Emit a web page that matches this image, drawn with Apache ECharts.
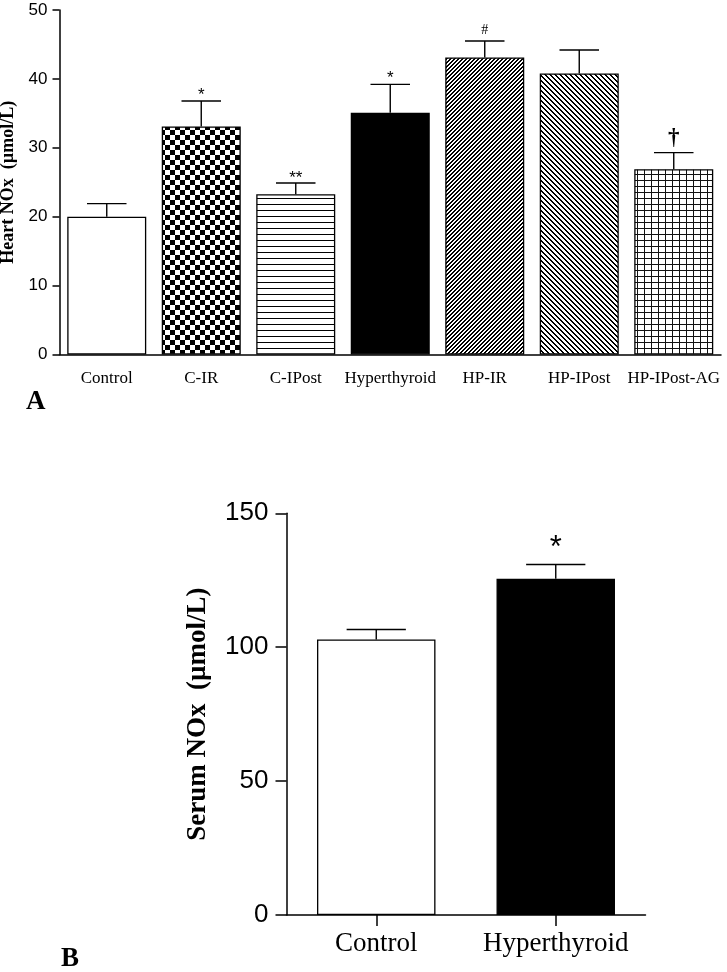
<!DOCTYPE html>
<html>
<head>
<meta charset="utf-8">
<script src="https://cdn.jsdelivr.net/npm/echarts@6/dist/echarts.min.js"></script>
<style>
html,body{margin:0;padding:0;background:#fff;}
#chart{width:727px;height:972px;}
</style>
</head>
<body>
<div id="chart"></div>
<script>
// ---- Data (panel A: heart NOx) ----
const topCategories = ['Control', 'C-IR', 'C-IPost', 'Hyperthyroid', 'HP-IR', 'HP-IPost', 'HP-IPost-AG'];
const topMeans = [20.0, 33.1, 23.25, 35.1, 43.1, 40.8, 26.9];
const topSEM = [1.9, 3.7, 1.65, 4.1, 2.4, 3.4, 2.4];
const topMarks = ['', '*', '**', '*', '#', '', '\u2020'];
const topYTicks = [0, 10, 20, 30, 40, 50];

// ---- Data (panel B: serum NOx) ----
const bottomCategories = ['Control', 'Hyperthyroid'];
const bottomMeans = [102.9, 125.6];
const bottomSEM = [3.7, 5.3];
const bottomMarks = ['', '*'];
const bottomYTicks = [0, 50, 100, 150];

// ---- Styles ----
const topFills = ['white', 'checker', 'hlines', 'black', 'diagUp', 'diagDown', 'grid'];
const bottomFills = ['white', 'black'];

function makeTile(kind) {
  const c = document.createElement('canvas');
  let w = 8, h = 8;
  if (kind === 'checker') { w = 10; h = 10; }
  if (kind === 'hlines') { w = 6; h = 6; }
  if (kind === 'diagUp') { w = 4; h = 4; }
  if (kind === 'diagDown') { w = 5; h = 5; }
  if (kind === 'grid') { w = 7; h = 6; }
  c.width = w; c.height = h;
  const ctx = c.getContext('2d');
  ctx.fillStyle = '#fff';
  ctx.fillRect(0, 0, w, h);
  ctx.fillStyle = '#000';
  if (kind === 'checker') {
    ctx.fillRect(0, 0, 5, 5);
    ctx.fillRect(5, 5, 5, 5);
  } else if (kind === 'hlines') {
    ctx.fillRect(0, 0, w, 1);
  } else if (kind === 'diagUp') {
    for (let y = 0; y < h; y++) for (let x = 0; x < w; x++) {
      if ((x + y) % 4 < 2) ctx.fillRect(x, y, 1, 1);
    }
  } else if (kind === 'diagDown') {
    for (let y = 0; y < h; y++) for (let x = 0; x < w; x++) {
      if ((((x - y) % 5) + 5) % 5 < 2) ctx.fillRect(x, y, 1, 1);
    }
  } else if (kind === 'grid') {
    ctx.fillStyle = '#111';
    ctx.fillRect(0, 0, 1, h);
    ctx.fillRect(0, 0, w, 1);
  }
  return c;
}
function fillFor(kind) {
  if (kind === 'white') return '#ffffff';
  if (kind === 'black') return '#000000';
  return { image: makeTile(kind), repeat: 'repeat' };
}

const markStyle = {
  '*': { font: '17px "Liberation Sans", Arial, sans-serif', dy: 6 },
  '**': { font: '17px "Liberation Sans", Arial, sans-serif', dy: 5 },
  '#': { font: '14px "Liberation Serif", "Times New Roman", serif', dy: 11 },
  '\u2020': { font: 'bold 23px "Liberation Serif", "Times New Roman", serif', dy: 15 }
};
const markStyleB = {
  '*': { font: '31px "Liberation Sans", Arial, sans-serif', dy: 16 }
};

function errRender(widthFrac, marks, styles) {
  return function (params, api) {
    const i = api.value(0);
    const base = api.coord([i, api.value(1)]);
    const top = api.coord([i, api.value(2)]);
    const bw = api.size([1, 0])[0] * widthFrac;
    const half = bw / 4;
    const ls = { stroke: '#000', lineWidth: 1.4 };
    const children = [
      { type: 'line', shape: { x1: base[0], y1: base[1], x2: top[0], y2: top[1] }, style: ls },
      { type: 'line', shape: { x1: top[0] - half, y1: top[1], x2: top[0] + half, y2: top[1] }, style: ls }
    ];
    const m = marks[i];
    if (m) {
      const s = styles[m];
      children.push({
        type: 'text', x: top[0], y: top[1] - s.dy,
        style: { text: m, font: s.font, fill: '#000', textAlign: 'center', textVerticalAlign: 'middle' }
      });
    }
    return { type: 'group', children: children };
  };
}

const topBarData = topMeans.map((v, i) => ({
  value: v,
  itemStyle: { color: fillFor(topFills[i]), borderColor: '#000', borderWidth: 1.3 }
}));
const bottomBarData = bottomMeans.map((v, i) => ({
  value: v,
  itemStyle: { color: fillFor(bottomFills[i]), borderColor: '#000', borderWidth: 1.3 }
}));
const topErrData = topMeans.map((v, i) => [i, v, v + topSEM[i]]);
const bottomErrData = bottomMeans.map((v, i) => [i, v, v + bottomSEM[i]]);

const TOP_BW = 0.836, BOT_BW = 0.66;
const axisLineStyle = { lineStyle: { color: '#000', width: 1.5 } };

const chart = echarts.init(document.getElementById('chart'), null, { renderer: 'canvas' });
chart.setOption({
  animation: false,
  backgroundColor: '#fff',
  grid: [
    { left: 59.5, right: 6, top: 10, bottom: 617.5, containLabel: false, outerBoundsMode: 'none' },
    { left: 286.5, right: 81.5, top: 513.3, bottom: 57, containLabel: false, outerBoundsMode: 'none' }
  ],
  xAxis: [
    {
      type: 'category', gridIndex: 0, data: topCategories,
      axisLine: axisLineStyle, axisTick: { show: false },
      axisLabel: { interval: 0, margin: 16, color: '#000', fontSize: 17, fontFamily: '"Liberation Serif", "Times New Roman", serif' }
    },
    {
      type: 'category', gridIndex: 1, data: bottomCategories,
      axisLine: axisLineStyle,
      axisTick: { show: true, alignWithLabel: true, length: 11, lineStyle: { color: '#000', width: 1.5 } },
      axisLabel: { interval: 0, margin: 15, color: '#000', fontSize: 27, fontFamily: '"Liberation Serif", "Times New Roman", serif' }
    }
  ],
  yAxis: [
    {
      type: 'value', gridIndex: 0, min: topYTicks[0], max: topYTicks[topYTicks.length - 1], interval: topYTicks[1] - topYTicks[0],
      axisLine: Object.assign({ show: true }, axisLineStyle),
      axisTick: { show: true, length: 7, lineStyle: { color: '#000', width: 1.5 } },
      splitLine: { show: false },
      axisLabel: { margin: 12, color: '#000', fontSize: 17, fontFamily: '"Liberation Sans", Arial, sans-serif' },
      name: 'Heart NOx  (\u00b5mol/L)', nameLocation: 'middle', nameRotate: 90, nameGap: 41.5,
      nameTextStyle: { color: '#000', fontSize: 18, fontWeight: 'bold', fontFamily: '"Liberation Serif", "Times New Roman", serif' }
    },
    {
      type: 'value', gridIndex: 1, min: bottomYTicks[0], max: bottomYTicks[bottomYTicks.length - 1], interval: bottomYTicks[1] - bottomYTicks[0],
      axisLine: Object.assign({ show: true }, axisLineStyle),
      axisTick: { show: true, length: 11, lineStyle: { color: '#000', width: 1.5 } },
      splitLine: { show: false },
      axisLabel: { margin: 18, color: '#000', fontSize: 26, fontFamily: '"Liberation Sans", Arial, sans-serif' },
      name: 'Serum NOx  (\u00b5mol/L)', nameLocation: 'middle', nameRotate: 90, nameGap: 75,
      nameTextStyle: { color: '#000', fontSize: 27, fontWeight: 'bold', fontFamily: '"Liberation Serif", "Times New Roman", serif' }
    }
  ],
  series: [
    { type: 'bar', xAxisIndex: 0, yAxisIndex: 0, data: topBarData, barWidth: (TOP_BW * 100) + '%' },
    { type: 'custom', xAxisIndex: 0, yAxisIndex: 0, data: topErrData, renderItem: errRender(TOP_BW, topMarks, markStyle), z: 5 },
    { type: 'bar', xAxisIndex: 1, yAxisIndex: 1, data: bottomBarData, barWidth: (BOT_BW * 100) + '%' },
    { type: 'custom', xAxisIndex: 1, yAxisIndex: 1, data: bottomErrData, renderItem: errRender(BOT_BW, bottomMarks, markStyleB), z: 5 }
  ],
  graphic: [
    { type: 'text', left: 26, top: 389, style: { text: 'A', font: 'bold 27px "Liberation Serif", "Times New Roman", serif', fill: '#000' } },
    { type: 'text', left: 61, top: 946, style: { text: 'B', font: 'bold 27px "Liberation Serif", "Times New Roman", serif', fill: '#000' } }
  ]
});
</script>
</body>
</html>
